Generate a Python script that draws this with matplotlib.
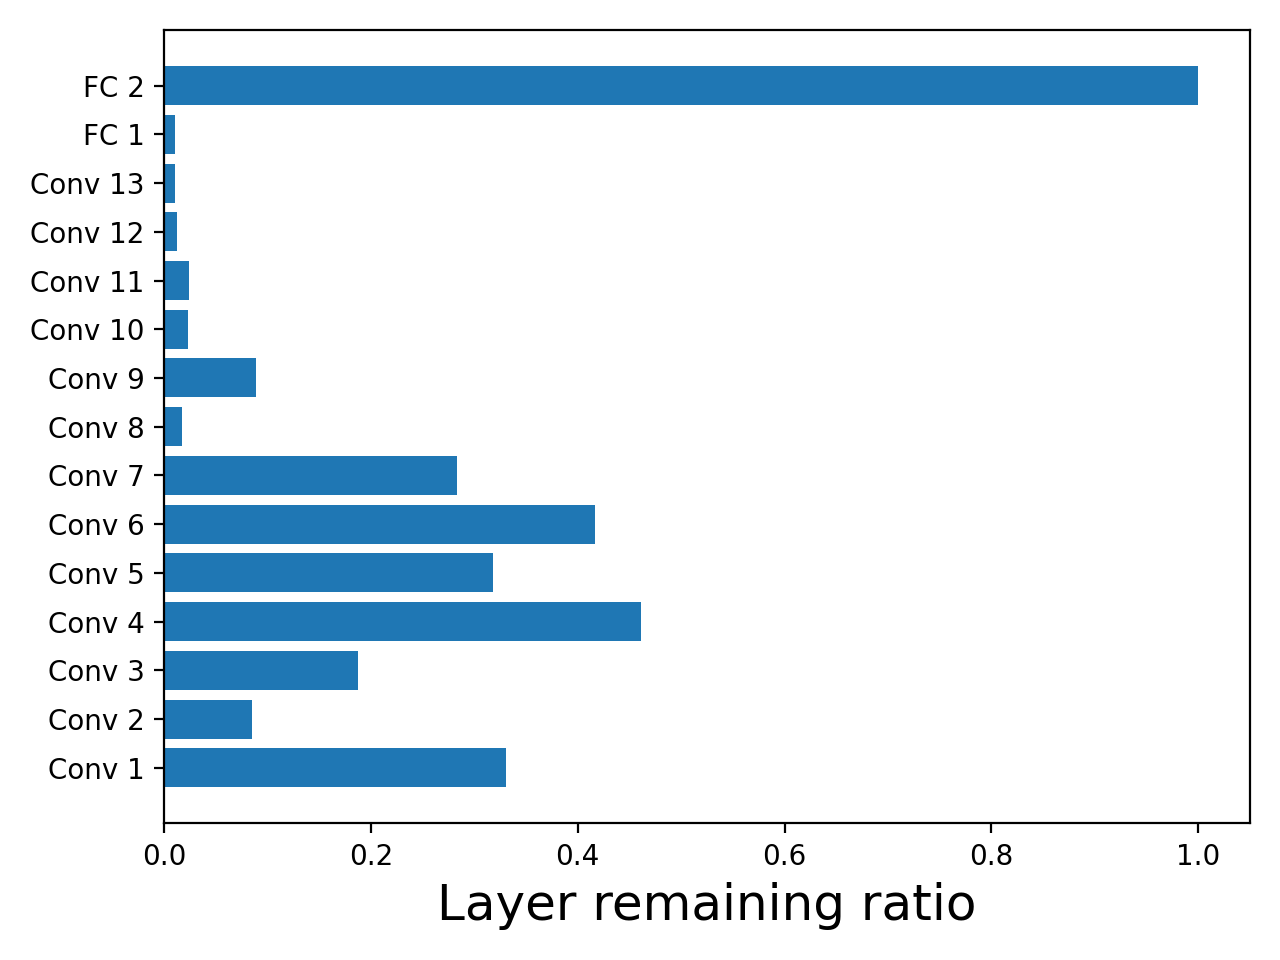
import matplotlib
matplotlib.use("Agg")
import matplotlib.pyplot as plt

layers = ["Conv 1", "Conv 2", "Conv 3", "Conv 4", "Conv 5", "Conv 6", "Conv 7",
          "Conv 8", "Conv 9", "Conv 10", "Conv 11", "Conv 12", "Conv 13", "FC 1", "FC 2"]
ratios = [0.331, 0.085, 0.188, 0.461, 0.318, 0.417, 0.283,
          0.017, 0.089, 0.023, 0.024, 0.013, 0.0105, 0.0105, 1.0]

fig, ax = plt.subplots(figsize=(6.4, 4.8), dpi=200)
ax.barh(range(len(layers)), ratios, color="#1f77b4")
ax.set_yticks(range(len(layers)))
ax.set_yticklabels(layers, fontsize=10)
ax.set_xlabel("Layer remaining ratio", fontsize=18)
fig.tight_layout()
fig.savefig("out.png", dpi=200)
